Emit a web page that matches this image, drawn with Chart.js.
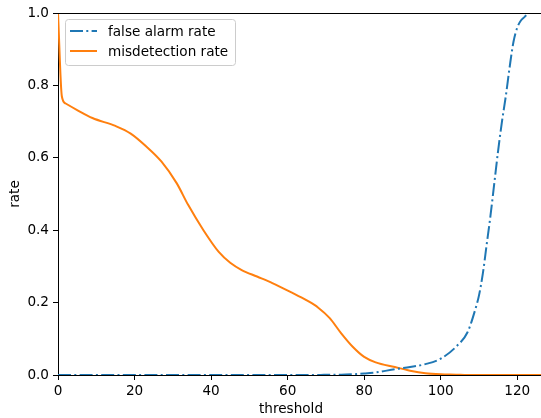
<!DOCTYPE html>
<html>
<head>
<meta charset="utf-8">
<script src="https://cdn.jsdelivr.net/npm/chart.js@4"></script>
<style>
  body { margin: 0; background: #fff; }
  #wrap { width: 541px; height: 418px; position: relative; }
</style>
</head>
<body>
<div id="wrap"><canvas id="rateChart"></canvas></div>
<script>
const thresholds = [0, 1, 2, 5, 9, 15, 19, 23, 27, 31, 34, 38, 42, 45, 48, 52, 56, 61, 65, 68, 71, 74, 77, 80, 83, 88, 92, 96, 100, 104, 107, 109, 110, 111, 112, 113, 114, 115, 116, 117, 118, 119, 120, 121, 122, 123, 124, 127];

const falseAlarm = [0, 0, 0, 0, 0, 0, 0, 0, 0, 0, 0, 0, 0, 0, 0, 0, 0, 0, 0, 0, 0.001, 0.001, 0.002, 0.004, 0.007, 0.016, 0.022, 0.03, 0.045, 0.078, 0.118, 0.18, 0.22, 0.28, 0.36, 0.44, 0.53, 0.62, 0.70, 0.77, 0.85, 0.92, 0.96, 0.98, 0.99, 1.0, 1.0, 1.0];

const misdetection = [1.0, 0.77, 0.75, 0.732, 0.71, 0.688, 0.667, 0.632, 0.59, 0.53, 0.47, 0.40, 0.34, 0.31, 0.29, 0.272, 0.254, 0.228, 0.206, 0.186, 0.157, 0.115, 0.078, 0.05, 0.035, 0.022, 0.012, 0.005, 0.002, 0.001, 0, 0, 0, 0, 0, 0, 0, 0, 0, 0, 0, 0, 0, 0, 0, 0, 0, 0];

const seriesNames = ['false alarm rate', 'misdetection rate'];
const xTicks = [0, 20, 40, 60, 80, 100, 120];
const yTicks = [0, 0.2, 0.4, 0.6, 0.8, 1.0];

const FONT = 'DejaVu Sans';
const FSIZE = 13.6;
const BLUE = '#1f77b4';
const ORANGE = '#ff7f0e';
const DASHDOT = [13, 3.3, 2, 3.3];
const LW = 2;

const toPoints = (ys) => thresholds.map((t, i) => ({ x: t, y: ys[i] }));

// top spine, axis labels and the legend box, drawn matplotlib-like
const decor = {
    id: 'decor',
    afterDraw(chart) {
        const { ctx, chartArea: a } = chart;
        ctx.save();
        ctx.strokeStyle = '#000';
        ctx.lineWidth = 1;
        ctx.beginPath();
        ctx.moveTo(a.left, a.top + 0.5);
        ctx.lineTo(a.right, a.top + 0.5);
        ctx.stroke();

        ctx.fillStyle = '#000';
        ctx.font = FSIZE + 'px ' + FONT;
        ctx.textAlign = 'center';
        ctx.textBaseline = 'alphabetic';
        ctx.fillText('threshold', 291, 413);
        ctx.translate(19, (a.top + a.bottom) / 2);
        ctx.rotate(-Math.PI / 2);
        ctx.fillText('rate', 0, 0);
        ctx.restore();

        // legend
        ctx.save();
        const bx = 65.5, by = 19.5, bw = 170, bh = 46, r = 3;
        ctx.beginPath();
        ctx.moveTo(bx + r, by);
        ctx.arcTo(bx + bw, by, bx + bw, by + bh, r);
        ctx.arcTo(bx + bw, by + bh, bx, by + bh, r);
        ctx.arcTo(bx, by + bh, bx, by, r);
        ctx.arcTo(bx, by, bx + bw, by, r);
        ctx.closePath();
        ctx.fillStyle = 'rgba(255,255,255,0.8)';
        ctx.fill();
        ctx.strokeStyle = '#cccccc';
        ctx.lineWidth = 1;
        ctx.stroke();

        const rows = [
            { label: seriesNames[0], color: BLUE, dash: DASHDOT, y: 31 },
            { label: seriesNames[1], color: ORANGE, dash: [], y: 51 }
        ];
        ctx.font = FSIZE + 'px ' + FONT;
        ctx.textAlign = 'left';
        ctx.textBaseline = 'middle';
        rows.forEach(row => {
            ctx.strokeStyle = row.color;
            ctx.lineWidth = LW;
            ctx.setLineDash(row.dash);
            ctx.beginPath();
            ctx.moveTo(70, row.y);
            ctx.lineTo(97, row.y);
            ctx.stroke();
            ctx.setLineDash([]);
            ctx.fillStyle = '#000';
            ctx.fillText(row.label, 108, row.y + 1);
        });
        ctx.restore();
    }
};

const ctx = document.getElementById('rateChart').getContext('2d');
const rateChart = new Chart(ctx, {
    type: 'line',
    data: {
        datasets: [
            {
                label: seriesNames[0],
                data: toPoints(falseAlarm),
                borderColor: BLUE,
                borderWidth: LW,
                borderDash: DASHDOT,
                pointRadius: 0,
                cubicInterpolationMode: 'monotone',
                fill: false
            },
            {
                label: seriesNames[1],
                data: toPoints(misdetection),
                borderColor: ORANGE,
                borderWidth: LW,
                pointRadius: 0,
                cubicInterpolationMode: 'monotone',
                fill: false
            }
        ]
    },
    options: {
        responsive: true,
        maintainAspectRatio: false,
        animation: false,
        layout: { padding: { top: 13, right: 0, left: 0, bottom: 0 } },
        plugins: {
            legend: { display: false },
            tooltip: { enabled: false }
        },
        scales: {
            x: {
                type: 'linear',
                min: 0,
                max: 126.2,
                afterBuildTicks: (scale) => { scale.ticks = xTicks.map(v => ({ value: v })); },
                afterFit: (scale) => { scale.height = 43; },
                grid: { drawOnChartArea: false, tickLength: 5, color: '#000' },
                border: { color: '#000', width: 1 },
                ticks: { color: '#000', padding: 3, maxRotation: 0, font: { family: FONT, size: FSIZE } }
            },
            y: {
                min: 0,
                max: 1,
                afterBuildTicks: (scale) => { scale.ticks = yTicks.map(v => ({ value: v })); },
                afterFit: (scale) => { scale.width = 58; },
                grid: { drawOnChartArea: false, tickLength: 5, color: '#000' },
                border: { color: '#000', width: 1 },
                ticks: {
                    color: '#000',
                    padding: 4,
                    font: { family: FONT, size: FSIZE },
                    callback: (v) => v.toFixed(1)
                }
            }
        }
    },
    plugins: [decor]
});
</script>
</body>
</html>
